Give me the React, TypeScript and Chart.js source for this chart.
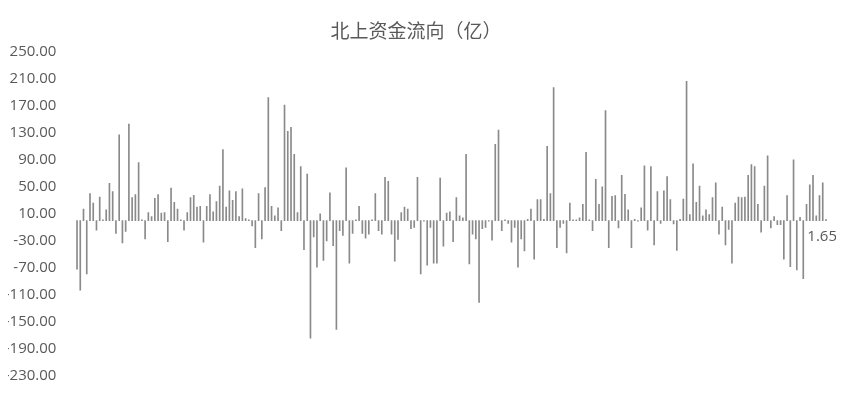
import { useRef, useEffect } from 'react';
import { Chart, registerables, Plugin } from 'chart.js';

Chart.register(...registerables);

// Daily northbound net flow, in 亿 (oldest first)
const flows: number[] = [
  -72, -103, 17, -79, 40, 26, -14, 35, 1, 16,
  55, 43, -19, 127, -33, -16, 143, 34, 38.5, 86,
  1, -27, 12, 6, 33, 38.5, 11, 12, -31, 48,
  27, 17, 1, -14, 12, 34, 37.5, 20, 21, -32,
  21, 38.5, 13, 28, 51, 105, 20, 44, 30, 43,
  6, 47, 3, 1, -8, -40, 40, -27, 49, 182,
  21, 7, 19, -15, 171, 132, 138, 98, 12, 80,
  -43, 69, -174, -24, -69, 10, -59, -30, 41, -37,
  -161, -15, -22, 78, -63, -19, 1, 21, -19, -26,
  -20, 1, 40, -15, -20, 64, 58, -20, -60, -28,
  12, 20, 17, -12, -10, 64, -79, -1, -66, -10,
  -63, -63, 63, -38, 11, 13, -31, 34, 7, 4,
  98, -64, -20, -27, -121, -12, -10, -1, -29, 113,
  134, -15, 1, -4, -32, -10, -69, -27, -45, 2,
  17, -57, 31, 31, 2, 110, 40, 197, -40, -10,
  -4, -48, 26, 1, 1, 4, 24, 101, 1, -15,
  61, 24, 50, 163, -40, 36, 37, -11, 67, 39,
  16, -40, 2, -1, 19, 81, -14, 80, -36, 43,
  -4, 44, 65, 31, -5, -44, 2, 32, 206, 9,
  84, 27, 51, 7, 16, 9, 34, 56, -20, 20,
  -36, -13, -63, 26, 35, 34, 35, 67, 83, 80,
  24, -17, 51, 96, -11, 6, -6, -6, -57, 37,
  -68, 90, -73, 5, -86, 24, 53, 67, 7, 37,
  56, 1.65,
];

// trading days are not shown on the axis, so plain day numbers
const days: string[] = flows.map((_, i) => String(i + 1));

const title = '北上资金流向（亿）';
const yMin = -230;
const yMax = 250;
const yStep = 40;

const textColor = '#595959';
const fontFamily = "'Open Sans', 'Noto Sans CJK SC', sans-serif";

// title drawn by hand so it can sit a little left of centre like the original
const titlePlugin: Plugin<'bar'> = {
  id: 'flowTitle',
  afterDraw(chart) {
    const { ctx, width } = chart;
    ctx.save();
    ctx.font = `19px 'Noto Sans CJK SC', sans-serif`;
    ctx.fillStyle = textColor;
    ctx.textAlign = 'center';
    ctx.textBaseline = 'middle';
    ctx.fillText(title, width / 2 - 6, 23);
    ctx.restore();
  },
};

// only the latest day carries a value label
const lastLabelPlugin: Plugin<'bar'> = {
  id: 'lastLabel',
  afterDatasetsDraw(chart) {
    const meta = chart.getDatasetMeta(0);
    const bar = meta.data[meta.data.length - 1] as any;
    if (!bar) return;
    const { ctx } = chart;
    const base = chart.scales.y.getPixelForValue(0);
    ctx.save();
    ctx.font = `15px ${fontFamily}`;
    ctx.fillStyle = textColor;
    ctx.textAlign = 'right';
    ctx.textBaseline = 'middle';
    ctx.fillText(flows[flows.length - 1].toFixed(2), bar.x + 11, base + 16);
    ctx.restore();
  },
};

function FlowChart() {
  const canvasRef = useRef<HTMLCanvasElement | null>(null);

  useEffect(() => {
    if (!canvasRef.current) return;
    const chart = new Chart(canvasRef.current, {
      type: 'bar',
      data: {
        labels: days,
        datasets: [
          {
            data: flows,
            backgroundColor: '#8a8a8a',
            barThickness: 1,
          },
        ],
      },
      options: {
        responsive: true,
        maintainAspectRatio: false,
        animation: false,
        // the hidden x scale still keeps ~28px at the bottom, so the canvas is a bit taller instead
        layout: { padding: { top: 43.7, bottom: 15, left: 0, right: 16.4 } },
        plugins: {
          legend: { display: false },
          title: { display: false },
          tooltip: { enabled: false },
        },
        scales: {
          x: { display: false },
          y: {
            min: yMin,
            max: yMax,
            grid: { display: false, drawTicks: false },
            border: { display: false },
            afterFit: (scale) => {
              scale.width = 75.4;
            },
            ticks: {
              stepSize: yStep,
              padding: 19,
              color: textColor,
              font: { family: fontFamily, size: 15 },
              callback: (v) => Number(v).toFixed(2),
            },
          },
        },
      },
      plugins: [titlePlugin, lastLabelPlugin],
    });
    return () => chart.destroy();
  }, []);

  return (
    <div style={{ width: 844, height: 396, marginLeft: -8, position: 'relative' }}>
      <canvas ref={canvasRef}></canvas>
    </div>
  );
}

export default function App() {
  return <FlowChart />;
}
